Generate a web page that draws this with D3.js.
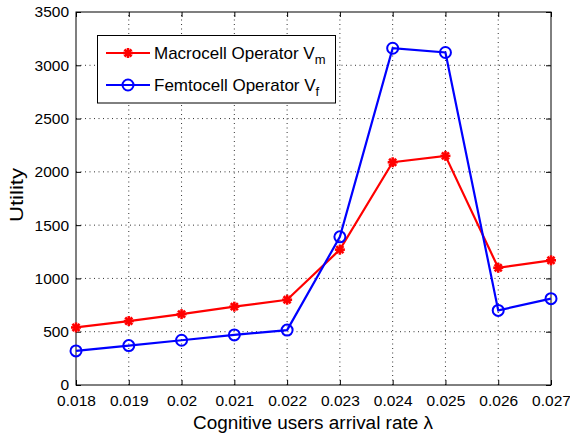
<!DOCTYPE html>
<html>
<head>
<meta charset="utf-8">
<script src="https://cdn.jsdelivr.net/npm/d3@7"></script>
<style>
  body { margin: 0; background: #fff; }
  svg { display: block; }
  text { font-family: "Liberation Sans", Arial, sans-serif; fill: #000; }
</style>
</head>
<body>
<svg id="chart" width="570" height="438"></svg>
<script>
// Arrival rates (x) and utilities of the two operators
const rates = [0.018, 0.019, 0.020, 0.021, 0.022, 0.023, 0.024, 0.025, 0.026, 0.027];
const macroUtility = [540, 600, 665, 735, 800, 1270, 2090, 2150, 1100, 1170];
const femtoUtility = [320, 370, 420, 470, 515, 1390, 3160, 3120, 700, 810];
const xTickLabels = ["0.018", "0.019", "0.02", "0.021", "0.022", "0.023", "0.024", "0.025", "0.026", "0.027"];
const yTicks = [0, 500, 1000, 1500, 2000, 2500, 3000, 3500];

const svg = d3.select("#chart");
const margin = { left: 76, right: 19, top: 12, bottom: 53 };
const W = 570, H = 438;
const x0 = margin.left, x1 = W - margin.right, y0 = H - margin.bottom, y1 = margin.top;

const x = d3.scaleLinear().domain([0.018, 0.027]).range([x0, x1]);
const y = d3.scaleLinear().domain([0, 3500]).range([y0, y1]);

// dotted grid
const grid = svg.append("g").attr("stroke", "#333").attr("stroke-width", 1)
  .attr("stroke-dasharray", "1,3.5");
grid.selectAll("line.gx").data(rates.slice(1, -1)).join("line")
  .attr("x1", d => x(d)).attr("x2", d => x(d)).attr("y1", y0).attr("y2", y1);
grid.selectAll("line.gy").data(yTicks.slice(1, -1)).join("line")
  .attr("y1", d => y(d)).attr("y2", d => y(d)).attr("x1", x0).attr("x2", x1);

// axes with inward ticks
const tickLen = 5;
const xAxis = d3.axisBottom(x).tickValues(rates).tickFormat((d, i) => xTickLabels[i])
  .tickSizeInner(-tickLen).tickSizeOuter(0).tickPadding(10);
const yAxis = d3.axisLeft(y).tickValues(yTicks).tickFormat(d3.format("d"))
  .tickSizeInner(-tickLen).tickSizeOuter(0).tickPadding(7);

const gx = svg.append("g").attr("transform", `translate(0,${y0})`).call(xAxis);
const gy = svg.append("g").attr("transform", `translate(${x0},0)`).call(yAxis);
const gxTop = svg.append("g").attr("transform", `translate(0,${y1})`)
  .call(d3.axisTop(x).tickValues(rates).tickFormat("").tickSizeInner(-tickLen).tickSizeOuter(0));
const gyRight = svg.append("g").attr("transform", `translate(${x1},0)`)
  .call(d3.axisRight(y).tickValues(yTicks).tickFormat("").tickSizeInner(-tickLen).tickSizeOuter(0));

[gx, gy, gxTop, gyRight].forEach(g => {
  g.select(".domain").remove();
  g.selectAll(".tick line").attr("stroke", "#000");
  g.selectAll(".tick text").style("font-size", "15.5px").attr("fill", "#000");
});

// frame
svg.append("rect").attr("x", x0).attr("y", y1).attr("width", x1 - x0).attr("height", y0 - y1)
  .attr("fill", "none").attr("stroke", "#000").attr("stroke-width", 1);

// axis titles
svg.append("text").attr("x", 193).attr("y", 429)
  .attr("textLength", 240).attr("lengthAdjust", "spacingAndGlyphs")
  .style("font-size", "18px").text("Cognitive users arrival rate λ");
svg.append("text").attr("transform", `translate(23,222) rotate(-90)`)
  .attr("textLength", 54).attr("lengthAdjust", "spacingAndGlyphs")
  .style("font-size", "18px").text("Utility");

// series
const line = d3.line().x((d, i) => x(rates[i])).y(d => y(d));

function asterisk(g, cx, cy, r, color) {
  const a = g.append("g").attr("transform", `translate(${cx},${cy})`)
    .attr("stroke", color).attr("stroke-width", 2.6).attr("stroke-linecap", "butt");
  [0, 45, 90, 135].forEach(ang => {
    const t = ang * Math.PI / 180;
    a.append("line").attr("x1", -r * Math.cos(t)).attr("y1", -r * Math.sin(t))
      .attr("x2", r * Math.cos(t)).attr("y2", r * Math.sin(t));
  });
}

const plot = svg.append("g");
plot.append("path").datum(macroUtility).attr("d", line)
  .attr("fill", "none").attr("stroke", "#ff0000").attr("stroke-width", 2.2);
macroUtility.forEach((v, i) => asterisk(plot, x(rates[i]), y(v), 5, "#ff0000"));

plot.append("path").datum(femtoUtility).attr("d", line)
  .attr("fill", "none").attr("stroke", "#0000ff").attr("stroke-width", 2.2);
plot.selectAll("circle.f").data(femtoUtility).join("circle")
  .attr("cx", (d, i) => x(rates[i])).attr("cy", d => y(d)).attr("r", 5.5)
  .attr("fill", "none").attr("stroke", "#0000ff").attr("stroke-width", 2);

// legend
const lg = svg.append("g");
lg.append("rect").attr("x", 97.5).attr("y", 35.5).attr("width", 238).attr("height", 67.5)
  .attr("fill", "#fff").attr("stroke", "#000").attr("stroke-width", 1);
const entries = [
  { color: "#ff0000", main: "Macrocell Operator V", sub: "m", y: 53, kind: "star" },
  { color: "#0000ff", main: "Femtocell Operator V", sub: "f", y: 85, kind: "circle" }
];
entries.forEach(e => {
  lg.append("line").attr("x1", 106).attr("x2", 150).attr("y1", e.y).attr("y2", e.y)
    .attr("stroke", e.color).attr("stroke-width", 2.2);
  if (e.kind === "star") asterisk(lg, 128, e.y, 5, e.color);
  else lg.append("circle").attr("cx", 128).attr("cy", e.y).attr("r", 5.5)
    .attr("fill", "none").attr("stroke", e.color).attr("stroke-width", 2);
  const t = lg.append("text").attr("x", 154).attr("y", e.y + 6).style("font-size", "17px");
  t.append("tspan").text(e.main);
  t.append("tspan").attr("dy", 5).style("font-size", "13px").text(e.sub);
});
</script>
</body>
</html>
